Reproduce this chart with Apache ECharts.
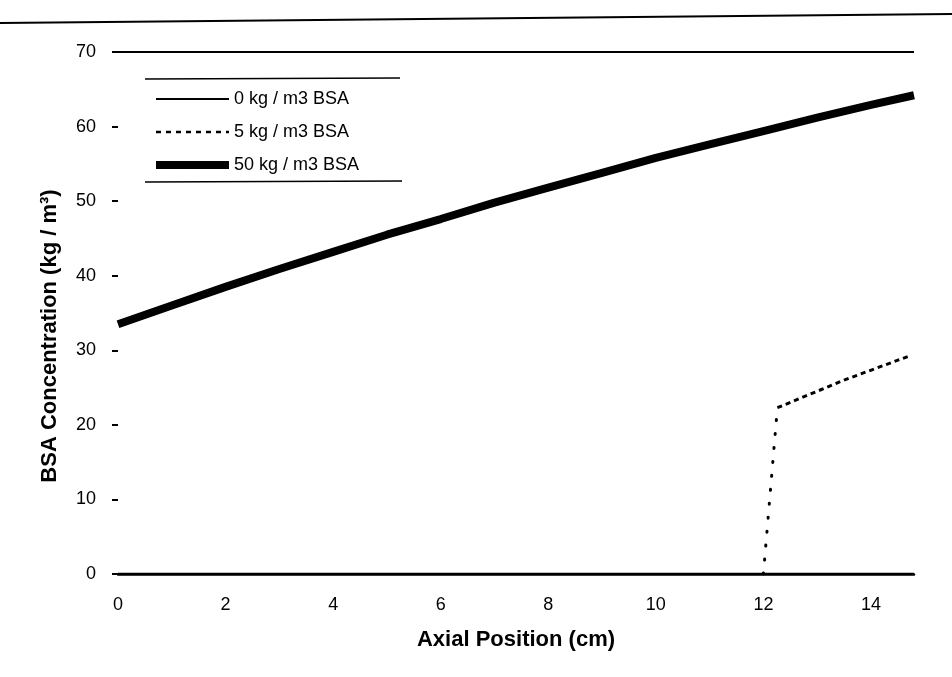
<!DOCTYPE html>
<html>
<head>
<meta charset="utf-8">
<script src="https://cdn.jsdelivr.net/npm/echarts@6/dist/echarts.min.js"></script>
<style>
  html, body { margin: 0; padding: 0; background: #fff; }
  #chart { width: 952px; height: 677px; }
</style>
</head>
<body>
<div id="chart"></div>
<script>
// axial position (cm) / BSA concentration (kg/m3)
const xTicks = [0, 2, 4, 6, 8, 10, 12, 14]
const yTicks = [0, 10, 20, 30, 40, 50, 60, 70]

const pos0   = [0, 14.8]
const conc0  = [0, 0]

// 5 kg/m3: flat, then the jump near 12 cm (drawn dotted), then the dashed rise
const pos5      = [0, 12]
const conc5     = [0, 0]
const pos5Jump  = [12, 12.26]
const conc5Jump = [0, 22.3]
const pos5Rise  = [12.26, 13.5, 14.7]
const conc5Rise = [22.3, 26.0, 29.2]

const pos50  = [0, 1, 2, 3, 4, 5, 6, 7, 8, 9, 10, 11, 12, 13, 14, 14.8]
const conc50 = [33.5, 36.0, 38.5, 40.9, 43.2, 45.5, 47.6, 49.8, 51.8, 53.8, 55.8, 57.6, 59.4, 61.2, 62.9, 64.2]

const zip = (xs, ys) => xs.map((x, i) => [x, ys[i]])

const FONT = 'Liberation Sans, Arial, sans-serif'
const S5 = '5 kg / m3 BSA'

const chart = echarts.init(document.getElementById('chart'))

chart.setOption({
  backgroundColor: '#fff',
  animation: false,
  grid: { left: 118, right: 38, top: 52, bottom: 103 },
  legend: {
    orient: 'vertical',
    left: 147,
    top: 85,
    itemWidth: 73,
    itemHeight: 14,
    itemGap: 15,
    itemStyle: { opacity: 0 },
    data: [
      { name: '0 kg / m3 BSA', lineStyle: { color: '#000', width: 2 } },
      { name: S5, lineStyle: { color: '#000', width: 2.5, type: [5, 5] } },
      { name: '50 kg / m3 BSA', lineStyle: { color: '#000', width: 8 } }
    ],
    textStyle: { color: '#000', fontSize: 18, fontFamily: FONT }
  },
  xAxis: {
    type: 'value',
    min: 0,
    max: 14.8,
    interval: 2,
    name: 'Axial Position (cm)',
    nameLocation: 'middle',
    nameGap: 55,
    nameTextStyle: { color: '#000', fontSize: 22, fontWeight: 'bold', fontFamily: FONT },
    axisLine: { lineStyle: { color: '#000', width: 2.5 } },
    axisTick: { show: false },
    axisLabel: { color: '#000', fontSize: 18, fontFamily: FONT, margin: 22, customValues: xTicks },
    splitLine: { show: false }
  },
  yAxis: {
    type: 'value',
    min: 0,
    max: 70,
    interval: 10,
    offset: 5,
    name: 'BSA Concentration (kg / m³)',
    nameLocation: 'middle',
    nameGap: 52,
    nameTextStyle: {
      color: '#000', fontSize: 22, fontWeight: 'bold', fontFamily: FONT,
      padding: [0, 46, 0, 0]
    },
    axisLine: { show: false },
    axisTick: { show: true, length: 6, lineStyle: { color: '#000', width: 2 }, customValues: yTicks },
    axisLabel: { color: '#000', fontSize: 18, fontFamily: FONT, margin: 17, customValues: yTicks },
    splitLine: { show: false }
  },
  series: [
    {
      name: S5,
      type: 'line',
      symbol: 'none',
      data: zip(pos5, conc5),
      lineStyle: { color: '#000', width: 2 }
    },
    {
      name: S5,
      type: 'line',
      symbol: 'none',
      data: zip(pos5Jump, conc5Jump),
      lineStyle: { color: '#000', width: 3, type: [1, 13], cap: 'round' }
    },
    {
      name: S5,
      type: 'line',
      symbol: 'none',
      data: zip(pos5Rise, conc5Rise),
      lineStyle: { color: '#000', width: 3, type: [5, 4] }
    },
    {
      name: '0 kg / m3 BSA',
      type: 'line',
      symbol: 'none',
      data: zip(pos0, conc0),
      lineStyle: { color: '#000', width: 2.5 },
      markLine: {
        silent: true,
        symbol: 'none',
        label: { show: false },
        lineStyle: { color: '#000', width: 2, type: 'solid' },
        data: [{ yAxis: 70 }]
      }
    },
    {
      name: '50 kg / m3 BSA',
      type: 'line',
      symbol: 'none',
      data: zip(pos50, conc50),
      lineStyle: { color: '#000', width: 8 }
    }
  ],
  graphic: [
    // scan border at the top of the page
    { type: 'line', shape: { x1: 0, y1: 23, x2: 952, y2: 14 }, style: { stroke: '#000', lineWidth: 2 } },
    // legend frame: top and bottom rules only
    { type: 'line', shape: { x1: 145, y1: 79, x2: 400, y2: 78 }, style: { stroke: '#000', lineWidth: 1.5 } },
    { type: 'line', shape: { x1: 145, y1: 182, x2: 402, y2: 181 }, style: { stroke: '#000', lineWidth: 1.5 } }
  ]
})
</script>
</body>
</html>
